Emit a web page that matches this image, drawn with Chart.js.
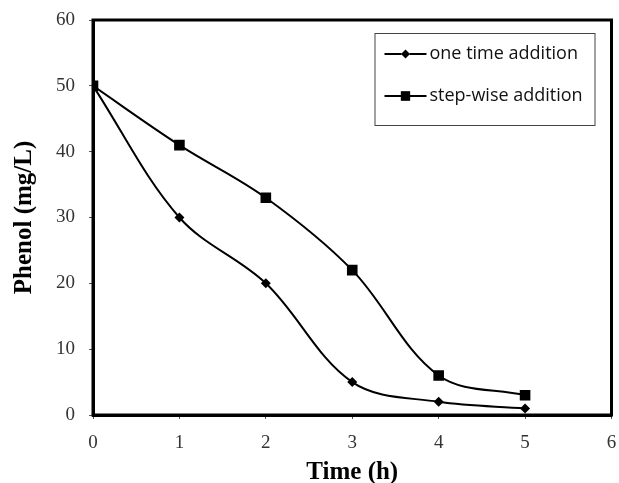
<!DOCTYPE html>
<html>
<head>
<meta charset="utf-8">
<script src="https://cdn.jsdelivr.net/npm/chart.js@4.4.1/dist/chart.umd.min.js"></script>
<style>
  html, body { margin: 0; padding: 0; background: #fff; }
  #wrap { width: 619px; height: 483px; position: relative; }
</style>
</head>
<body>
<div id="wrap"><canvas id="c" width="619" height="483"></canvas></div>
<script>
// ---- data ----
const timeHours = [0, 1, 2, 3, 4, 5];
const oneTimeAddition = [50, 30, 20, 5, 2, 1];
const stepWiseAddition = [50, 41, 33, 22, 6, 3];
const seriesNames = ['one time addition', 'step-wise addition'];
const xTicks = [0, 1, 2, 3, 4, 5, 6];
const yTicks = [0, 10, 20, 30, 40, 50, 60];
const xTitle = 'Time (h)';
const yTitle = 'Phenol (mg/L)';

const toPts = (xs, ys) => xs.map((x, i) => ({ x: x, y: ys[i] }));

const frameAndLegend = {
  id: 'frameAndLegend',
  afterDraw(chart) {
    const ctx = chart.ctx;
    const a = chart.chartArea;
    ctx.save();
    // full frame
    ctx.strokeStyle = '#000';
    ctx.lineWidth = 3;
    ctx.strokeRect(a.left, a.top, a.right - a.left, a.bottom - a.top);

    // legend box
    const bx = a.right - 237, by = a.top + 13, bw = 220, bh = 92;
    ctx.fillStyle = '#fff';
    ctx.fillRect(bx, by, bw, bh);
    ctx.strokeStyle = '#444';
    ctx.lineWidth = 1;
    ctx.strokeRect(bx + 0.5, by + 0.5, bw, bh);

    chart.data.datasets.forEach((ds, i) => {
      const cy = by + 21 + i * 42;
      const lx0 = bx + 10, lx1 = bx + 52;
      ctx.strokeStyle = '#000';
      ctx.lineWidth = 2;
      ctx.beginPath();
      ctx.moveTo(lx0, cy);
      ctx.lineTo(lx1, cy);
      ctx.stroke();
      Chart.helpers.drawPoint(ctx, {
        pointStyle: ds.pointStyle,
        radius: ds.pointStyle === 'rect' ? 6.5 : 4.5,
        rotation: 0,
        borderWidth: 0
      }, (lx0 + lx1) / 2, cy);
      ctx.fillStyle = '#000';
      ctx.fill();
      ctx.font = '18px "Open Sans"';
      ctx.textBaseline = 'middle';
      ctx.textAlign = 'left';
      ctx.fillStyle = '#111';
      ctx.fillText(ds.label, lx1 + 3, cy);
    });
    ctx.restore();
  }
};

new Chart(document.getElementById('c'), {
  type: 'line',
  data: {
    datasets: [
      {
        label: seriesNames[0],
        data: toPts(timeHours, oneTimeAddition),
        borderColor: '#000',
        backgroundColor: '#000',
        borderWidth: 2,
        pointStyle: 'rectRot',
        pointRadius: 5,
        pointBorderWidth: 0,
        tension: 0.35,
        fill: false
      },
      {
        label: seriesNames[1],
        data: toPts(timeHours, stepWiseAddition),
        borderColor: '#000',
        backgroundColor: '#000',
        borderWidth: 2,
        pointStyle: 'rect',
        pointRadius: 7.5,
        pointBorderWidth: 0,
        tension: 0.35,
        fill: false
      }
    ]
  },
  options: {
    responsive: false,
    animation: false,
    devicePixelRatio: 1,
    layout: { padding: { left: 0, top: 20, right: 7, bottom: 0 } },
    plugins: {
      legend: { display: false },
      tooltip: { enabled: false }
    },
    scales: {
      x: {
        type: 'linear',
        min: xTicks[0],
        max: xTicks[xTicks.length - 1],
        afterBuildTicks(scale) { scale.ticks = xTicks.map(v => ({ value: v })); },
        afterFit(scale) { scale.height = 68; scale.paddingLeft = 0; scale.paddingRight = 0; },
        grid: { drawOnChartArea: false, drawTicks: true, tickLength: 4, tickColor: '#555', lineWidth: 1 },
        border: { display: true, color: '#000', width: 3 },
        ticks: {
          padding: 13,
          color: '#333',
          font: { family: '"Liberation Serif", "Times New Roman", serif', size: 19 },
          maxRotation: 0
        },
        title: {
          display: true,
          text: xTitle,
          color: '#000',
          font: { family: '"Liberation Serif", "Times New Roman", serif', size: 25, weight: 'bold', lineHeight: 1 },
          padding: { top: 0, bottom: -2 }
        }
      },
      y: {
        type: 'linear',
        min: yTicks[0],
        max: yTicks[yTicks.length - 1],
        afterBuildTicks(scale) { scale.ticks = yTicks.map(v => ({ value: v })); },
        afterFit(scale) { scale.width = 93; scale.paddingTop = 0; scale.paddingBottom = 0; },
        grid: { drawOnChartArea: false, drawTicks: true, tickLength: 4, tickColor: '#555', lineWidth: 1 },
        border: { display: true, color: '#000', width: 3 },
        ticks: {
          padding: 14,
          color: '#333',
          font: { family: '"Liberation Serif", "Times New Roman", serif', size: 19 }
        },
        title: {
          display: true,
          text: yTitle,
          color: '#000',
          font: { family: '"Liberation Serif", "Times New Roman", serif', size: 25, weight: 'bold', lineHeight: 1 },
          padding: { top: 12, bottom: 0 }
        }
      }
    }
  },
  plugins: [frameAndLegend]
});
</script>
</body>
</html>
